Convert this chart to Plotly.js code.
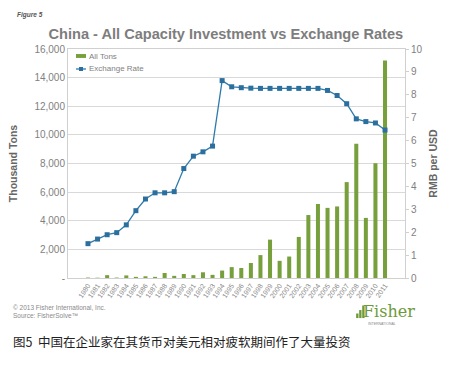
<!DOCTYPE html>
<html><head><meta charset="utf-8">
<script src="https://cdn.plot.ly/plotly-3.0.1.min.js"></script>
<style>body{margin:0;background:#fff}#c{width:449px;height:365px}</style>
</head><body><div id="c"></div>
<script>
var years = ["1980","1981","1982","1983","1984","1985","1986","1987","1988","1989","1990","1991","1992","1993","1994","1995","1996","1997","1998","1999","2000","2001","2002","2003","2004","2005","2006","2007","2008","2009","2010","2011"];
var allTons = [30,20,200,30,180,80,120,80,350,150,280,200,400,220,520,760,700,1050,1600,2680,1200,1500,2870,4400,5170,4900,5000,6700,9380,4200,8020,15200];
var exchangeRate = [1.50,1.70,1.89,1.98,2.32,2.94,3.45,3.72,3.72,3.77,4.78,5.32,5.51,5.76,8.62,8.35,8.31,8.29,8.28,8.28,8.28,8.28,8.28,8.28,8.28,8.19,7.97,7.61,6.95,6.83,6.77,6.46];
var leftTicks = [0,2000,4000,6000,8000,10000,12000,14000,16000];
var leftTickText = ["-","2,000","4,000","6,000","8,000","10,000","12,000","14,000","16,000"];
var rightTicks = [0,1,2,3,4,5,6,7,8,9,10];
var seriesNames = ["All Tons","Exchange Rate"];

var gray = "#7f7f7f";
var green = "#77a03c", blue = "#2e7bab", blueM = "#2a6f9e";
var traces = [
 {type:"bar", name:seriesNames[0], x:years, y:allTons, marker:{color:green}, yaxis:"y"},
 {type:"scatter", mode:"lines+markers", name:seriesNames[1], x:years, y:exchangeRate, yaxis:"y2",
  line:{color:blue, width:1.3}, marker:{symbol:"square", size:5, color:blueM}}
];
var layout = {
 width:449, height:365, margin:{l:68, r:44, t:49, b:87},
 paper_bgcolor:"#fff", plot_bgcolor:"#fff",
 font:{family:"Liberation Sans, Arial, sans-serif", color:gray, size:10},
 title:{text:"<b>China - All Capacity Investment vs Exchange Rates</b>", x:0.503, xanchor:"center", y:0.908, yanchor:"middle", font:{size:14.6, color:"#7d7d7d"}},
 bargap:0.58,
 showlegend:false,
 xaxis:{type:"category", tickangle:-55, tickfont:{size:7, color:"#8a8a8a"}, showgrid:false, showline:true, linecolor:"#d0d0d0", ticks:"", mirror:true},
 yaxis:{range:[0,16000], tickvals:leftTicks, ticktext:leftTickText, showgrid:true, gridcolor:"#d9d9d9", zeroline:false, showline:true, linecolor:"#d0d0d0", mirror:true, ticks:"", ticklen:0, tickfont:{size:10, color:gray},
   title:{text:"<b>Thousand Tons</b>", font:{size:10.5, color:"#666"}, standoff:14}},
 yaxis2:{range:[0,10], tickvals:rightTicks, overlaying:"y", side:"right", showgrid:false, zeroline:false, ticks:"outside", ticklen:3, tickcolor:"#d0d0d0", tickfont:{size:10, color:gray},
   title:{text:"<b>RMB per USD</b>", font:{size:10.5, color:"#666"}, standoff:8}},
 annotations:[
  {xref:"paper", yref:"paper", x:-0.158, y:1.15, xanchor:"left", yanchor:"middle", text:"<i><b>Figure 5</b></i>", showarrow:false, font:{size:6.5, color:"#555"}},
  {xref:"paper", yref:"paper", x:0.056, y:0.969, xanchor:"left", yanchor:"middle", text:seriesNames[0], showarrow:false, font:{size:8, color:gray}},
  {xref:"paper", yref:"paper", x:0.056, y:0.9127, xanchor:"left", yanchor:"middle", text:seriesNames[1], showarrow:false, font:{size:8, color:gray}},
  {xref:"paper", yref:"paper", x:-0.168, y:-0.105, xanchor:"left", yanchor:"top", text:"© 2013 Fisher International, Inc.<br>Source: FisherSolve™", align:"left", showarrow:false, font:{size:6.5, color:"#8a8a8a"}},
  {xref:"paper", yref:"paper", x:0.87, y:-0.095, xanchor:"left", yanchor:"top", text:"Fisher", showarrow:false, font:{family:"DejaVu Serif, serif", size:16, color:"#6e9a3a"}},
  {xref:"paper", yref:"paper", x:0.885, y:-0.185, xanchor:"left", yanchor:"top", text:"INTERNATIONAL", showarrow:false, font:{size:3.5, color:"#888"}},
  {xref:"paper", yref:"paper", x:-0.17, y:-0.228, xanchor:"left", yanchor:"top", text:"图5  中国在企业家在其货币对美元相对疲软期间作了大量投资", showarrow:false, font:{family:"Noto Sans CJK SC", size:12.5, color:"#222"}}
 ],
 shapes:[
  {type:"rect", xref:"paper", yref:"paper", x0:0.0237, x1:0.0534, y0:0.961, y1:0.978, fillcolor:green, line:{width:0}},
  {type:"line", xref:"paper", yref:"paper", x0:0.0237, x1:0.0534, y0:0.9127, y1:0.9127, line:{color:blue, width:1.3}},
  {type:"rect", xref:"paper", yref:"paper", x0:0.0326, x1:0.0446, y0:0.904, y1:0.9214, fillcolor:blueM, line:{width:0}},
  {type:"rect", xref:"paper", yref:"paper", x0:0.855, x1:0.862, y0:-0.175, y1:-0.155, fillcolor:"#6e9a3a", line:{width:0}},
  {type:"rect", xref:"paper", yref:"paper", x0:0.864, x1:0.871, y0:-0.175, y1:-0.14, fillcolor:"#6e9a3a", line:{width:0}},
  {type:"rect", xref:"paper", yref:"paper", x0:0.873, x1:0.88, y0:-0.175, y1:-0.12, fillcolor:"#6e9a3a", line:{width:0}}
 ]
};
Plotly.newPlot("c", traces, layout, {displayModeBar:false, staticPlot:true});
</script></body></html>
